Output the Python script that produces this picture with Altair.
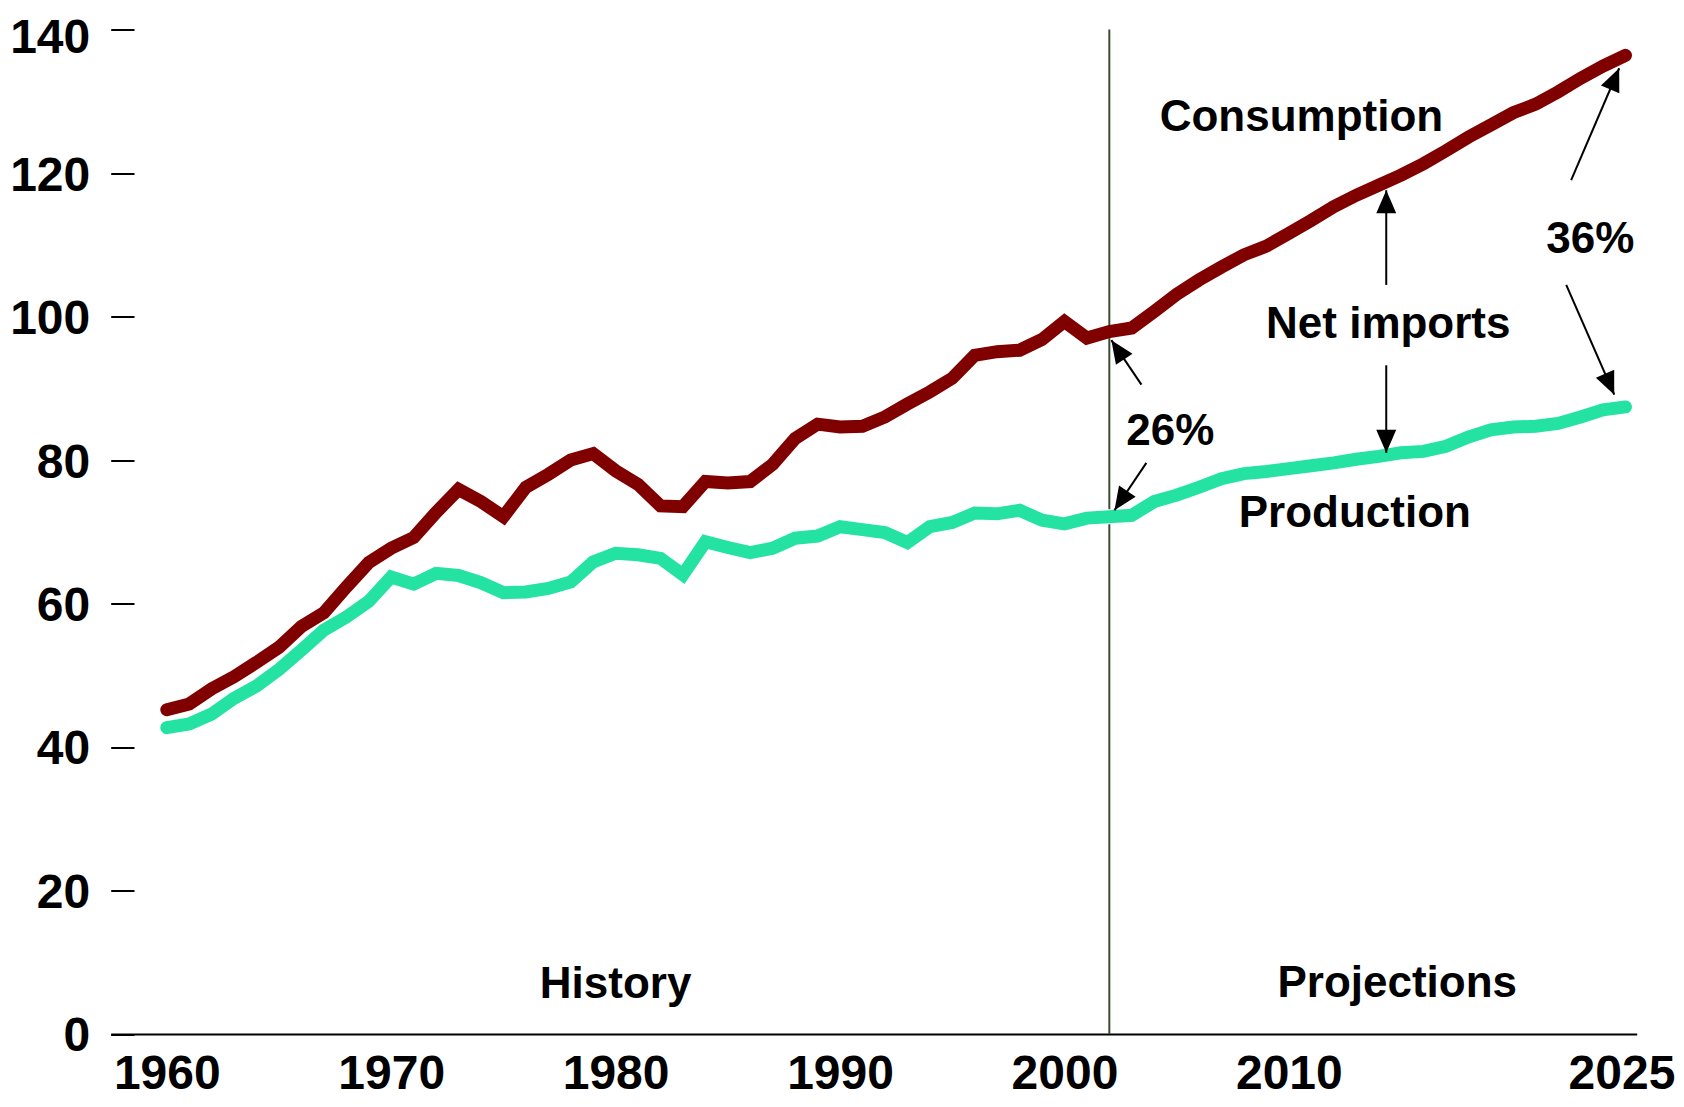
import math
import altair as alt
import pandas as pd

# ---------------- data ----------------
years = list(range(1960, 2026))

consumption = [
    45.2, 46.0, 48.1, 49.8, 51.8, 53.9, 56.8, 58.7, 62.3, 65.7,   # 1960-69
    67.7, 69.2, 72.7, 75.9, 74.2, 72.1, 76.2, 78.0, 80.0, 80.9,   # 1970-79
    78.5, 76.6, 73.6, 73.5, 77.0, 76.8, 77.0, 79.4, 83.0, 85.0,   # 1980-89
    84.6, 84.7, 86.0, 87.8, 89.5, 91.4, 94.6, 95.1, 95.3, 96.8,   # 1990-99
    99.3, 97.0, 97.9, 98.4, 100.7, 103.1, 105.1, 106.9, 108.6, 109.8,  # 2000-09
    111.6, 113.4, 115.3, 116.9, 118.3, 119.7, 121.3, 123.1, 125.0, 126.7,  # 2010-19
    128.4, 129.6, 131.3, 133.2, 134.9, 136.4,                     # 2020-25
]

production = [
    42.7, 43.2, 44.6, 46.8, 48.5, 50.8, 53.5, 56.3, 58.1, 60.3,   # 1960-69
    63.7, 62.7, 64.2, 63.9, 62.9, 61.5, 61.6, 62.1, 63.0, 65.8,   # 1970-79
    67.0, 66.8, 66.3, 64.0, 68.6, 67.8, 67.1, 67.7, 69.1, 69.4,   # 1980-89
    70.7, 70.3, 69.9, 68.5, 70.7, 71.3, 72.6, 72.5, 73.0, 71.6,   # 1990-99
    71.1, 71.9, 72.1, 72.3, 74.2, 75.1, 76.2, 77.4, 78.1, 78.4,   # 2000-09
    78.8, 79.2, 79.6, 80.1, 80.5, 81.0, 81.2, 81.9, 83.2, 84.2,   # 2010-19
    84.6, 84.7, 85.1, 86.0, 87.0, 87.4,                           # 2020-25
]

x_ticks = [1960, 1970, 1980, 1990, 2000, 2010, 2025]
y_ticks = [0, 20, 40, 60, 80, 100, 120, 140]

divider_year = [2002]

label_text = ["Consumption", "Net imports", "Production", "26%", "36%", "History", "Projections"]
label_x = [2010.56, 2014.43, 2012.94, 2004.72, 2023.43, 1980.0, 2014.83]
label_y = [125.9, 97.0, 70.7, 82.1, 108.8, 5.0, 5.2]

# arrows: start (x1, y1) -> tip (x2, y2)
arrow_x1 = [2014.34, 2014.34, 2022.58, 2022.36, 2003.43, 2003.65]
arrow_y1 = [104.4, 93.2, 119.0, 104.4, 90.5, 79.6]
arrow_x2 = [2014.34, 2014.34, 2024.72, 2024.50, 2002.09, 2002.23]
arrow_y2 = [117.6, 81.0, 134.6, 89.1, 96.7, 73.0]

# ---------------- layout / style ----------------
W = 1526
H = 1004.5
X_DOMAIN = [1957.5, 2025.5]
Y_DOMAIN = [0, 140]
FONT = "Liberation Sans"
CONS_COLOR = "#800000"
PROD_COLOR = "#24E3A2"
LINE_W = 13

px_per_x = W / (X_DOMAIN[1] - X_DOMAIN[0])
px_per_y = H / (Y_DOMAIN[1] - Y_DOMAIN[0])

xs = alt.Scale(domain=X_DOMAIN, nice=False, zero=False)
ys = alt.Scale(domain=Y_DOMAIN, nice=False, zero=False)

cons_df = pd.DataFrame({"year": years, "value": consumption})
prod_df = pd.DataFrame({"year": years, "value": production})

x_axis = alt.Axis(
    values=x_ticks, format="d", title=None, grid=False,
    ticks=False, tickSize=0, domainColor="black", domainWidth=2,
    labelFont=FONT, labelFontSize=48, labelFontWeight="bold", labelColor="black",
    labelPadding=17, labelFlush=False, labelOverlap=False,
    labelOffset=alt.expr("datum.value == 2025 ? -4 : 0"),
)
y_axis = alt.Axis(
    values=y_ticks, title=None, grid=False, domain=False,
    offset=-23.3, tickSize=23.3, tickWidth=2, tickColor="black",
    labelFont=FONT, labelFontSize=48, labelFontWeight="bold", labelColor="black",
    labelPadding=21, labelOffset=alt.expr("datum.value == 140 ? 8.5 : 3"),
)


def X(field):
    return alt.X(field, scale=xs, axis=x_axis)


def Y(field):
    return alt.Y(field, scale=ys, axis=y_axis)


divider = alt.Chart(pd.DataFrame({"year": divider_year, "y0": [Y_DOMAIN[0]], "y1": [Y_DOMAIN[1]]})).mark_rule(
    color="#3d4a35", strokeWidth=2
).encode(x=X("year:Q"), y=Y("y0:Q"), y2="y1:Q")

cons_line = alt.Chart(cons_df).mark_line(
    color=CONS_COLOR, strokeWidth=LINE_W, strokeCap="round"
).encode(x=X("year:Q"), y=Y("value:Q"))

prod_halo = alt.Chart(prod_df).mark_line(
    color="white", strokeWidth=LINE_W + 2, strokeCap="round"
).encode(x=X("year:Q"), y=Y("value:Q"))

prod_line = alt.Chart(prod_df).mark_line(
    color=PROD_COLOR, strokeWidth=LINE_W, strokeCap="round"
).encode(x=X("year:Q"), y=Y("value:Q"))

angles = []
for a, b, c, d in zip(arrow_x1, arrow_y1, arrow_x2, arrow_y2):
    dx = (c - a) * px_per_x
    dy = -(d - b) * px_per_y
    angles.append(math.degrees(math.atan2(dx, -dy)) % 360)

arrow_df = pd.DataFrame({
    "x1": arrow_x1, "y1": arrow_y1, "x2": arrow_x2, "y2": arrow_y2, "angle": angles,
})

shafts = alt.Chart(arrow_df).mark_rule(color="black", strokeWidth=2).encode(
    x=X("x1:Q"), y=Y("y1:Q"), x2="x2:Q", y2="y2:Q",
)

ARROW_PATH = "M0,0L-0.5,1.15L0.5,1.15Z"
heads = alt.Chart(arrow_df).mark_point(
    shape=ARROW_PATH, filled=True, color="black", size=1600, opacity=1, strokeWidth=0
).encode(
    x=X("x2:Q"), y=Y("y2:Q"),
    angle=alt.Angle("angle:Q", scale=None),
)

labels = alt.Chart(pd.DataFrame({"text": label_text, "x": label_x, "y": label_y})).mark_text(
    font=FONT, fontSize=44, fontWeight="bold", align="center", baseline="alphabetic", color="black"
).encode(x=X("x:Q"), y=Y("y:Q"), text="text:N")

chart = alt.layer(
    divider, cons_line, prod_halo, prod_line, shafts, heads, labels
).properties(
    width=W,
    height=H,
    autosize=alt.AutoSizeParams(type="none"),
    padding={"left": 102.7, "top": 21.5, "right": 39, "bottom": 65},
).configure(background="white").configure_view(stroke=None)

chart.save("out.html", embed_options={"renderer": "svg", "actions": False})
